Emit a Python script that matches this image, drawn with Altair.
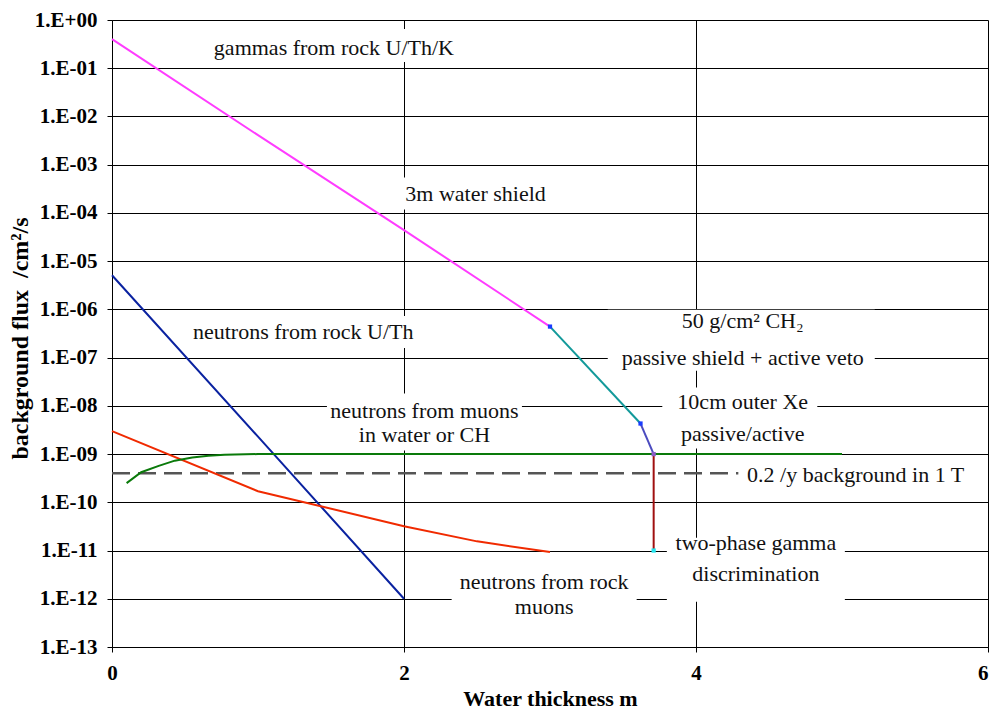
import altair as alt
import pandas as pd

FONT = "Liberation Serif"

# ---------------- data ----------------
gamma_x = [0, 1, 2, 3]
gamma_y = [0.4, 4.1e-3, 4.4e-5, 4.4e-7]

ch2_x = [3, 3.62]
ch2_y = [4.4e-7, 4.3e-9]

xe_x = [3.62, 3.71]
xe_y = [4.3e-9, 1.0e-9]

twophase_x = [3.71, 3.71]
twophase_y = [1.0e-9, 1.0e-11]

nrock_x = [0, 1, 2]
nrock_y = [5.1e-6, 2.3e-9, 1.0e-12]

nmurock_x = [0, 1, 2, 2.5, 3]
nmurock_y = [3.0e-9, 1.7e-10, 3.2e-11, 1.55e-11, 9.3e-12]

nmuwater_x = [0.1, 0.2, 0.32, 0.43, 0.55, 0.66, 0.77, 1.0, 5.0]
nmuwater_y = [2.5e-10, 4.2e-10, 5.7e-10, 7.3e-10, 8.5e-10, 9.2e-10, 9.7e-10, 1.0e-9, 1.0e-9]

limit_x = [0, 4.29]
limit_y = [4.0e-10, 4.0e-10]

marker_x = [3, 3.62, 3.71, 3.71]
marker_y = [4.4e-7, 4.3e-9, 1.0e-9, 1.0e-11]
marker_kind = ["m_blue", "m_blue", "m_purple", "m_cyan"]

x_ticks = [0, 2, 4, 6]
y_ticks = [1, 1e-1, 1e-2, 1e-3, 1e-4, 1e-5, 1e-6, 1e-7, 1e-8, 1e-9, 1e-10, 1e-11, 1e-12, 1e-13]

# annotations (centered)
ann_text = ["gammas from rock U/Th/K", "3m water shield", "neutrons from rock U/Th",
            "neutrons from muons", "in water or CH",
            "50 g/cm² CH₂", "passive shield + active veto",
            "10cm outer Xe", "passive/active",
            "two-phase gamma", "discrimination",
            "neutrons from rock", "muons"]
ann_x = [1.52, 2.49, 1.31, 2.14, 2.14, 4.32, 4.32, 4.32, 4.32, 4.41, 4.41, 2.96, 2.96]
ann_y = [0.267, 2.42e-4, 3.4e-7, 7.8e-9, 2.5e-9, 5.85e-7, 9.6e-8, 1.18e-8, 2.57e-9,
         1.46e-11, 3.25e-12, 2.25e-12, 6.9e-13]

# left-aligned annotation
left_text = ["0.2 /y background in 1 T"]
left_x = [4.35]
left_y = [3.7e-10]

# white label boxes: centre (data) and pixel size (style)
box_x = [1.52, 2.49, 1.31, 2.14, 4.31, 4.30, 4.41, 2.96]
box_y = [0.297, 2.54e-4, 3.4e-7, 4.6e-9, 2.28e-7, 5.57e-9, 4.0e-12, 1.28e-12]
box_w = [254, 151, 230, 195, 267, 155, 178, 185]
box_h = [33, 32, 32, 57, 61, 61, 64, 55]

# ---------------- tables ----------------
rows = []
def add(name, xs, ys):
    for i, (a, b) in enumerate(zip(xs, ys)):
        rows.append({"series": name, "x": a, "y": b, "order": i})

add("gamma", gamma_x, gamma_y)
add("ch2", ch2_x, ch2_y)
add("xe", xe_x, xe_y)
add("twophase", twophase_x, twophase_y)
add("nrock", nrock_x, nrock_y)
add("nmurock", nmurock_x, nmurock_y)
add("nmuwater", nmuwater_x, nmuwater_y)
lines_df = pd.DataFrame(rows)

limit_df = pd.DataFrame({"x": limit_x, "y": limit_y, "order": [0, 1]})
marker_df = pd.DataFrame({"x": marker_x, "y": marker_y, "series": marker_kind})
ann_df = pd.DataFrame({"x": ann_x, "y": ann_y, "text": ann_text})
left_df = pd.DataFrame({"x": left_x, "y": left_y, "text": left_text})

box_df = pd.DataFrame({
    "x": box_x, "y": box_y,
    "shape": [f"M-1,-{h / w:.4f}H1V{h / w:.4f}H-1Z" for w, h in zip(box_w, box_h)],
    "size": [w * w for w in box_w],
})

series_domain = ["gamma", "ch2", "xe", "twophase", "nrock", "nmurock", "nmuwater",
                 "m_blue", "m_purple", "m_cyan"]
series_range = ["#ff3cff", "#12999a", "#4b4bbf", "#a01010", "#0a22a0", "#f02a00", "#0a7a0a",
                "#1a3cff", "#8a5fc8", "#22e6f0"]
width_range = [2, 2, 2, 2, 2, 2, 3]

# ---------------- encodings ----------------
xscale = alt.Scale(domain=[0, 6], nice=False, zero=False)
yscale = alt.Scale(type="log", domain=[1e-13, 1], nice=False)

exp = "round(log(datum.value)/LN10)"
label_expr = (f"'1.E' + ({exp} >= 0 ? '+' : '-') + (abs({exp}) < 10 ? '0' : '') + abs({exp})")

Y_TITLE = "background flux\u00a0\u00a0/cm²/s"
X_TITLE = "Water thickness m"

xaxis = alt.Axis(values=x_ticks, title=X_TITLE, grid=True, gridColor="#000",
                 gridWidth=1, domainColor="#000", domainWidth=1, tickColor="#000", tickSize=5,
                 labelFont=FONT, labelFontSize=21, labelFontWeight="bold", labelColor="#000",
                 labelPadding=10, labelFlush=False, format="d",
                 labelAlign={"condition": {"test": "datum.value == 6", "value": "right"},
                             "value": "center"},
                 titleFont=FONT, titleFontSize=22, titleFontWeight="bold", titleColor="#000",
                 titlePadding=5)
yaxis = alt.Axis(values=y_ticks, labelExpr=label_expr, title=Y_TITLE,
                 grid=True, gridColor="#000", gridWidth=1, domainColor="#000", domainWidth=1,
                 tickColor="#000", tickSize=5,
                 labelFont=FONT, labelFontSize=21, labelFontWeight="bold", labelColor="#000",
                 labelPadding=10, labelFlush=False,
                 titleFont=FONT, titleFontSize=24, titleFontWeight="bold", titleColor="#000",
                 titleX=-80, titleY=318, titleAngle=-90, titleBaseline="bottom")

X = alt.X("x:Q", scale=xscale, axis=xaxis, title=X_TITLE)
Y = alt.Y("y:Q", scale=yscale, axis=yaxis, title=Y_TITLE)

boxes = alt.Chart(box_df).mark_point(filled=True, opacity=1, color="white", strokeWidth=0).encode(
    x=X, y=Y,
    shape=alt.Shape("shape:N", scale=None),
    size=alt.Size("size:Q", scale=None),
)

limit = alt.Chart(limit_df).mark_line(color="#555555", strokeWidth=2.5, strokeDash=[18, 8]).encode(
    x=X, y=Y, order="order:Q"
)

lines = alt.Chart(lines_df).mark_line().encode(
    x=X, y=Y,
    color=alt.Color("series:N", scale=alt.Scale(domain=series_domain, range=series_range), legend=None),
    strokeWidth=alt.StrokeWidth("series:N", scale=alt.Scale(domain=series_domain[:7], range=width_range), legend=None),
    order="order:Q",
)

markers = alt.Chart(marker_df).mark_square(size=18, opacity=1).encode(
    x=X, y=Y,
    color=alt.Color("series:N", scale=alt.Scale(domain=series_domain, range=series_range), legend=None),
)

labels = alt.Chart(ann_df).mark_text(font=FONT, fontSize=22, color="#111", align="center",
                                      baseline="middle").encode(x=X, y=Y, text="text:N")
left_labels = alt.Chart(left_df).mark_text(font=FONT, fontSize=22, color="#111", align="left",
                                           baseline="middle").encode(x=X, y=Y, text="text:N")

chart = alt.layer(boxes, limit, lines, markers, labels, left_labels).properties(
    width=876, height=627,
    autosize=alt.AutoSizeParams(type="none"),
    padding={"left": 104, "top": 12, "right": 4, "bottom": 66},
    background="white",
).configure_view(strokeWidth=0)

chart.save("out.html", embed_options={"renderer": "svg", "actions": False})
